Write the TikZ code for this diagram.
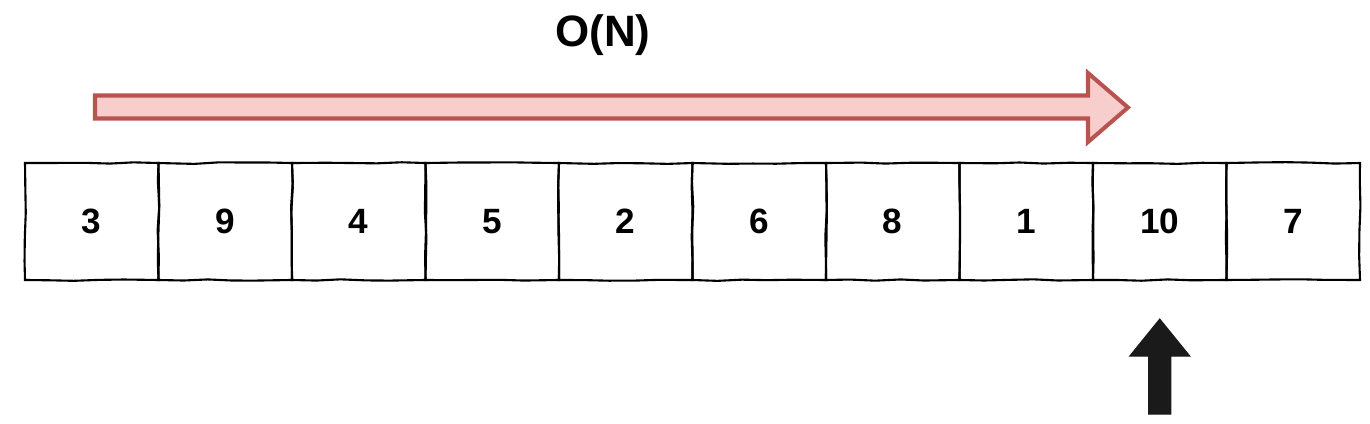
\documentclass[tikz,border=0pt]{standalone}
\usepackage{fontspec}
\setmainfont{Liberation Sans}
\usepackage{tikz}
\usetikzlibrary{calc,decorations.pathmorphing}

\definecolor{arrowfill}{HTML}{F8CECC}
\definecolor{arrowline}{HTML}{B85450}
\definecolor{pointer}{HTML}{1A1A1A}

\tikzset{
  cell/.style={draw, line width=1.2pt, minimum width=2.67cm, minimum height=2.34cm,
    inner sep=0pt, font=\fontsize{20}{24}\selectfont\bfseries,
    decorate, decoration={random steps, segment length=14pt, amplitude=0.5pt}},
  bigarrow/.style={draw=arrowline, fill=arrowfill, line width=2.3pt, line join=miter},
  pointerarrow/.style={fill=pointer, draw=pointer, line width=0.6pt}
}

\begin{document}
\begin{tikzpicture}[x=0.02cm, y=-0.02cm]
        \useasboundingbox (0,0) rectangle (1370,423);

        % the array
        \foreach \val [count=\i] in {3,9,4,5,2,6,8,1,10,7} {
            \node[cell] (c\i) at ({25+133.5*(\i-0.5)},221.5) {\val};
        }

        % cost label
        \node[font=\fontsize{25}{30}\selectfont\bfseries] (cost) at (603,35) {O(N)};

        % scan arrow
        \draw[bigarrow] (95,95.5) -- (1088,95.5) -- (1088,73) -- (1128,107.5)
            -- (1088,142) -- (1088,118.5) -- (95,118.5) -- cycle;

        % pointer below the maximum
        \coordinate (tip) at ($(c9.south)+(0,38)$);
        \filldraw[pointerarrow] (tip) -- ++(30,37) -- ++(-19,0) -- ++(0,58)
            -- ++(-22,0) -- ++(0,-58) -- ++(-19,0) -- cycle;
\end{tikzpicture}
\end{document}
